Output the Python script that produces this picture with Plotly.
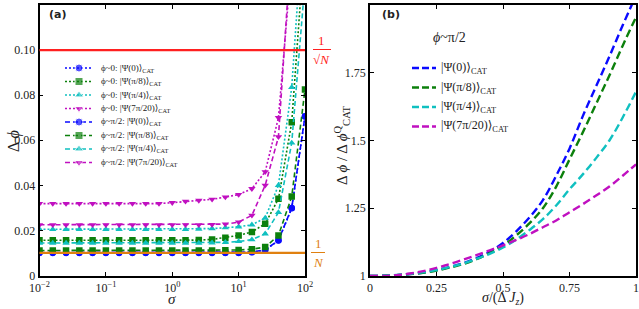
import plotly.graph_objects as go

W, H = 639, 309

# ---------------- data: panel (a) ----------------
sigma_exp = [-2 + 0.2 * i for i in range(21)]
sigma = [10 ** e for e in sigma_exp]

a_blue_dot = [0.0100]*16 + [0.0103, 0.0113, 0.0155, 0.0298, 0.0705]
a_green_dot = [0.0156]*12 + [0.0157, 0.0160, 0.0168, 0.0178, 0.0193, 0.0230, 0.0340, 0.0680, 0.150]
a_cyan_dot = [0.0205]*12 + [0.0206, 0.0208, 0.0212, 0.0216, 0.0225, 0.0255, 0.0400, 0.0835, 0.170]
a_mag_dot = [0.0319]*10 + [0.0323, 0.0329, 0.0333, 0.0338, 0.0348, 0.0359, 0.0385, 0.0460, 0.0700, 0.140, 0.300]

a_blue_dash = [0.0102]*16 + [0.0104, 0.0114, 0.0156, 0.0300, 0.0707]
a_green_dash = [0.0111]*14 + [0.0112, 0.0113, 0.0117, 0.0126, 0.0178, 0.0350, 0.0825]
a_cyan_dash = [0.0144]*13 + [0.0145, 0.0147, 0.0151, 0.0159, 0.0185, 0.0280, 0.0588, 0.130]
a_mag_dash = [0.0225]*13 + [0.0226, 0.0228, 0.0237, 0.0267, 0.0400, 0.0615, 0.150, 0.320]

ref_sqrtN = 0.10
ref_N = 0.01

a_xticks = [0.01, 0.1, 1, 10, 100]
a_xticktext = ["10<sup>−2</sup>", "10<sup>−1</sup>", "10<sup>0</sup>", "10<sup>1</sup>", "10<sup>2</sup>"]
a_yticks = [0, 0.02, 0.04, 0.06, 0.08, 0.10, 0.12]
a_yticktext = ["0", "0.02", "0.04", "0.06", "0.08", "0.10", "0.12"]

# ---------------- data: panel (b) ----------------
b_x = [round(0.05 * i, 2) for i in range(21)]
b_blue = [1.0, 1.001, 1.003, 1.007, 1.013, 1.022, 1.033, 1.047, 1.066, 1.090, 1.122,
          1.165, 1.217, 1.280, 1.370, 1.470, 1.590, 1.700, 1.810, 1.925, 2.035]
b_green = [1.0, 1.001, 1.003, 1.007, 1.012, 1.020, 1.031, 1.044, 1.062, 1.085, 1.112,
           1.150, 1.195, 1.250, 1.330, 1.430, 1.530, 1.635, 1.740, 1.850, 1.955]
b_cyan = [1.0, 1.001, 1.004, 1.008, 1.014, 1.022, 1.033, 1.046, 1.063, 1.082, 1.105,
          1.135, 1.170, 1.210, 1.260, 1.320, 1.375, 1.435, 1.500, 1.585, 1.680]
b_mag = [1.0, 1.0, 1.003, 1.009, 1.018, 1.030, 1.044, 1.060, 1.077, 1.095, 1.113,
         1.133, 1.155, 1.180, 1.205, 1.235, 1.265, 1.297, 1.330, 1.370, 1.412]

b_xticks = [0, 0.25, 0.5, 0.75, 1]
b_xticktext = ["0", "0.25", "0.5", "0.75", "1"]
b_yticks = [1, 1.25, 1.5, 1.75, 2]
b_yticktext = ["1", "1.25", "1.5", "1.75", "2"]

# ---------------- styles ----------------
BLUE, GREEN, CYAN, MAG = "#0a0aff", "#0c800c", "#10c0c0", "#c010c0"
RED, ORANGE = "#ff2020", "#e08010"
SERIF = "Liberation Serif, DejaVu Serif, serif"

a_series = [
    ("ϕ~0: |Ψ(0)⟩<sub>CAT</sub>", a_blue_dot, BLUE, "circle", "2px,2px"),
    ("ϕ~0: |Ψ(π/8)⟩<sub>CAT</sub>", a_green_dot, GREEN, "square", "2px,2px"),
    ("ϕ~0: |Ψ(π/4)⟩<sub>CAT</sub>", a_cyan_dot, CYAN, "triangle-up", "2px,2px"),
    ("ϕ~0: |Ψ(7π/20)⟩<sub>CAT</sub>", a_mag_dot, MAG, "triangle-down", "2px,2px"),
    ("ϕ~π/2: |Ψ(0)⟩<sub>CAT</sub>", a_blue_dash, BLUE, "circle", "5px,3px"),
    ("ϕ~π/2: |Ψ(π/8)⟩<sub>CAT</sub>", a_green_dash, GREEN, "square", "5px,3px"),
    ("ϕ~π/2: |Ψ(π/4)⟩<sub>CAT</sub>", a_cyan_dash, CYAN, "triangle-up", "5px,3px"),
    ("ϕ~π/2: |Ψ(7π/20)⟩<sub>CAT</sub>", a_mag_dash, MAG, "triangle-down", "5px,3px"),
]
b_series = [
    ("|Ψ(0)⟩<sub>CAT</sub>", b_blue, BLUE),
    ("|Ψ(π/8)⟩<sub>CAT</sub>", b_green, GREEN),
    ("|Ψ(π/4)⟩<sub>CAT</sub>", b_cyan, CYAN),
    ("|Ψ(7π/20)⟩<sub>CAT</sub>", b_mag, MAG),
]

def px(x):
    return x / W

def py(y):
    return 1 - y / H

def note(x, y, text, size, color="#222", xanchor="center", angle=0, family=SERIF):
    return dict(x=px(x), y=py(y), xref="paper", yref="paper", text=text, showarrow=False,
                xanchor=xanchor, yanchor="middle", textangle=angle,
                font=dict(family=family, size=size, color=color))

fig = go.Figure()

for name, vals, col, sym, dash in a_series:
    fig.add_trace(go.Scatter(x=sigma, y=vals, mode="lines+markers", name=name,
                             line=dict(color=col, width=1.6, dash=dash),
                             marker=dict(color=col, symbol=sym, size=6.5),
                             xaxis="x", yaxis="y", showlegend=False, cliponaxis=True))

for name, vals, col in b_series:
    fig.add_trace(go.Scatter(x=b_x, y=vals, mode="lines", name=name,
                             line=dict(color=col, width=2.4, dash="8px,4px", shape="spline"),
                             xaxis="x2", yaxis="y2", showlegend=False))

# ---- custom legend keys (overlay pixel axis) ----
a_rows = [68, 81.5, 95, 108.5, 122, 135.5, 149, 162.5]
for (name, vals, col, sym, dash), ry in zip(a_series, a_rows):
    fig.add_trace(go.Scatter(x=[65, 79, 92], y=[ry, ry, ry], mode="lines+markers",
                             line=dict(color=col, width=1.6, dash=dash),
                             marker=dict(color=col, symbol=sym, size=[0, 8, 0]),
                             xaxis="x3", yaxis="y3", showlegend=False, hoverinfo="skip"))
b_rows = [68, 87.5, 107, 126.5]
for (name, vals, col), ry in zip(b_series, b_rows):
    fig.add_trace(go.Scatter(x=[412, 436], y=[ry, ry], mode="lines",
                             line=dict(color=col, width=2.4, dash="7px,3px"),
                             xaxis="x3", yaxis="y3", showlegend=False, hoverinfo="skip"))

annotations = []
for (name, *_), ry in zip(a_series, a_rows):
    annotations.append(note(99, ry, name, 9, xanchor="left"))
for (name, *_), ry in zip(b_series, b_rows):
    annotations.append(note(439, ry, name, 12, xanchor="left"))
annotations.append(note(450, 37, "<i>ϕ</i>~π/2", 14))
# panel labels
annotations.append(note(47, 15, "<b>(a)</b>", 11, xanchor="left", family="DejaVu Sans"))
annotations.append(note(380, 15, "<b>(b)</b>", 11, xanchor="left", family="DejaVu Sans"))
# reference-line labels
annotations += [
    note(322, 40, "1", 13, RED),
    note(322, 59, "√<i>N</i>", 13, RED),
    note(318, 243, "1", 13, ORANGE),
    note(318, 262, "<i>N</i>", 13, ORANGE),
]
# axis titles
annotations += [
    note(14, 141, "Δ <i>ϕ</i>", 16, angle=-90),
    note(172, 299, "<i>σ</i>", 15),
    note(342, 145, "Δ <i>ϕ</i> / Δ <i>ϕ</i><sup>Q</sup><sub>CAT</sub>", 15, angle=-90),
    note(503, 298.5, "<i>σ</i>/(Δ <i>J<sub>z</sub></i>)", 14),
]

shapes = [
    dict(type="line", xref="x domain", yref="y", x0=0, x1=1, y0=ref_sqrtN, y1=ref_sqrtN,
         line=dict(color=RED, width=2.2), layer="above"),
    dict(type="line", xref="x domain", yref="y", x0=0, x1=1, y0=ref_N, y1=ref_N,
         line=dict(color=ORANGE, width=2.2), layer="above"),
    dict(type="line", xref="paper", yref="paper", x0=px(313), x1=px(331), y0=py(49.5), y1=py(49.5),
         line=dict(color=RED, width=1)),
    dict(type="line", xref="paper", yref="paper", x0=px(311), x1=px(325), y0=py(252.5), y1=py(252.5),
         line=dict(color=ORANGE, width=1)),
]

axis_common = dict(showline=True, linecolor="black", linewidth=1.5, mirror="ticks",
                   ticks="inside", ticklen=4, tickcolor="black", tickwidth=1.2,
                   showgrid=False, zeroline=False, automargin=False,
                   tickfont=dict(family=SERIF, size=12, color="#222"))

fig.update_layout(
    template="none",
    width=W, height=H, margin=dict(l=0, r=0, t=0, b=0, pad=0),
    paper_bgcolor="white", plot_bgcolor="rgba(0,0,0,0)", showlegend=False,
    xaxis=dict(domain=[px(39.5), px(305)], type="log", range=[-2, 2],
               tickvals=a_xticks, ticktext=a_xticktext, anchor="y", **axis_common),
    yaxis=dict(domain=[py(275.5), py(5)], range=[0, 0.12],
               tickvals=a_yticks, ticktext=a_yticktext, anchor="x", **axis_common),
    xaxis2=dict(domain=[px(370), px(636)], range=[0, 1],
                tickvals=b_xticks, ticktext=b_xticktext, anchor="y2", **axis_common),
    yaxis2=dict(domain=[py(276), py(5)], range=[1, 2],
                tickvals=b_yticks, ticktext=b_yticktext, anchor="x2", **axis_common),
    xaxis3=dict(domain=[0, 1], range=[0, W], visible=False, anchor="y3", fixedrange=True,
                automargin=False),
    yaxis3=dict(domain=[0, 1], range=[H, 0], visible=False, anchor="x3", fixedrange=True,
                automargin=False),
    annotations=annotations, shapes=shapes,
)

fig.write_html("out.html", config={"displayModeBar": False},
               post_script="document.body.style.margin='0px';")
